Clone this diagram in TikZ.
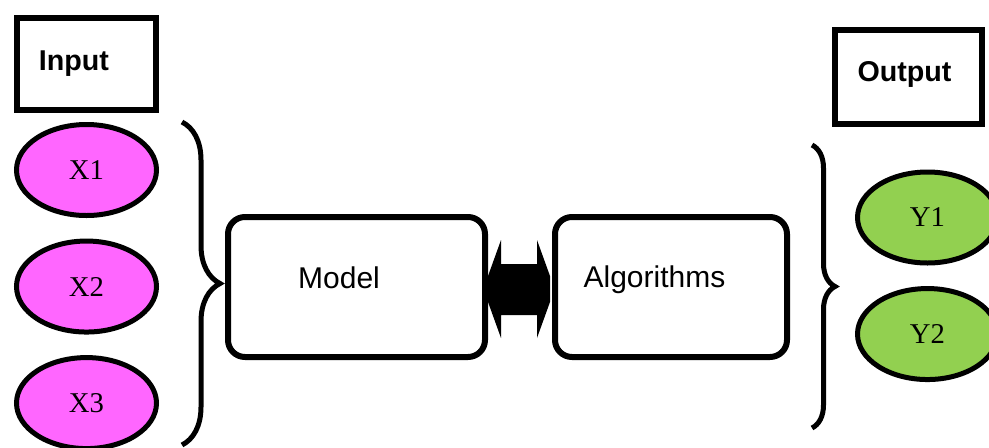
\documentclass[tikz,border=0pt]{standalone}
\usepackage{fontspec}
\setmainfont{Liberation Serif}
\setsansfont{Liberation Sans}
\usepackage{xcolor}
\usetikzlibrary{positioning, calc, shapes.geometric, decorations.pathreplacing}
\definecolor{inpink}{HTML}{FF66FF}
\definecolor{outgreen}{HTML}{92D050}
\tikzset{
    x=0.75pt, y=-0.75pt, % one unit is one pixel, y runs downwards
    every node/.style={inner sep=0pt},
    iobox/.style={draw, line width=4.5pt, font=\sffamily\bfseries\fontsize{21.5}{25}\selectfont}, % Input / Output titles
    invar/.style={ellipse, draw, line width=3.75pt, fill=inpink, minimum width=105pt, minimum height=68.25pt, font=\fontsize{21.5}{25}\selectfont},
    outvar/.style={invar, fill=outgreen},
    procbox/.style={draw, line width=4.5pt, rounded corners=12.75pt, minimum height=105pt},
    proctext/.style={font=\sffamily\fontsize{22.5}{27}\selectfont},
    grouping/.style={line width=3.75pt, decorate, decoration={brace, amplitude=#1}},
}

\begin{document}
\begin{tikzpicture}[on grid]

    \path[use as bounding box] (0,0) rectangle (989,447);
    \clip (0,0) rectangle (989,447);

    % Inputs
    \node[iobox, minimum width=104.25pt, minimum height=69pt,
          label={[iobox, draw=none, xshift=-9.4pt]center:Input}] (input) at (86.5,64) {};
    \node[invar] (x1) at (86.5,170) {X1};
    \node[invar] (x2) [below=87.4pt of x1] {X2};
    \node[invar] (x3) [below=87.4pt of x2] {X3};

    % Model and algorithms
    \node[procbox, minimum width=192.75pt,
          label={[proctext, xshift=-13.1pt, yshift=7.1pt]center:Model}] (model) at (356.5,287) {};
    \node[procbox, minimum width=174pt,
          label={[proctext, xshift=-12.4pt, yshift=5.1pt]center:Algorithms}] (algo) at (671,287) {};

    % Outputs
    \node[iobox, minimum width=110.25pt, minimum height=70.5pt,
          label={[iobox, draw=none, xshift=-3pt, yshift=1.8pt]center:Output}] (output) at (908.5,77) {};
    \node[outvar] (y1) at (927.5,217.5) {Y1};
    \node[outvar] (y2) [below=87.4pt of y1] {Y2};

    % Braces
    \coordinate (lbtop) at (182,122);
    \coordinate (lbbot) at (182,445);
    \coordinate (rbtop) at (812,145);
    \coordinate (rbbot) at (812,428);
    \draw[grouping=28.5pt] (lbtop) -- (lbbot);
    \draw[grouping=17.25pt] (rbtop) -- (rbbot);

    % Double arrow between model and algorithms
    \fill ($(model.east)+(0,-11)$) -- ($(model.east)+(13,-47)$) -- ($(model.east)+(13,-23)$)
       -- ($(algo.west)+(-15,-23)$) -- ($(algo.west)+(-15,-47)$) -- ($(algo.west)+(-2,-11)$)
       -- ($(algo.west)+(-2,15)$) -- ($(algo.west)+(-15,51)$) -- ($(algo.west)+(-15,28)$)
       -- ($(model.east)+(13,28)$) -- ($(model.east)+(13,51)$) -- ($(model.east)+(0,15)$) -- cycle;

\end{tikzpicture}
\end{document}
